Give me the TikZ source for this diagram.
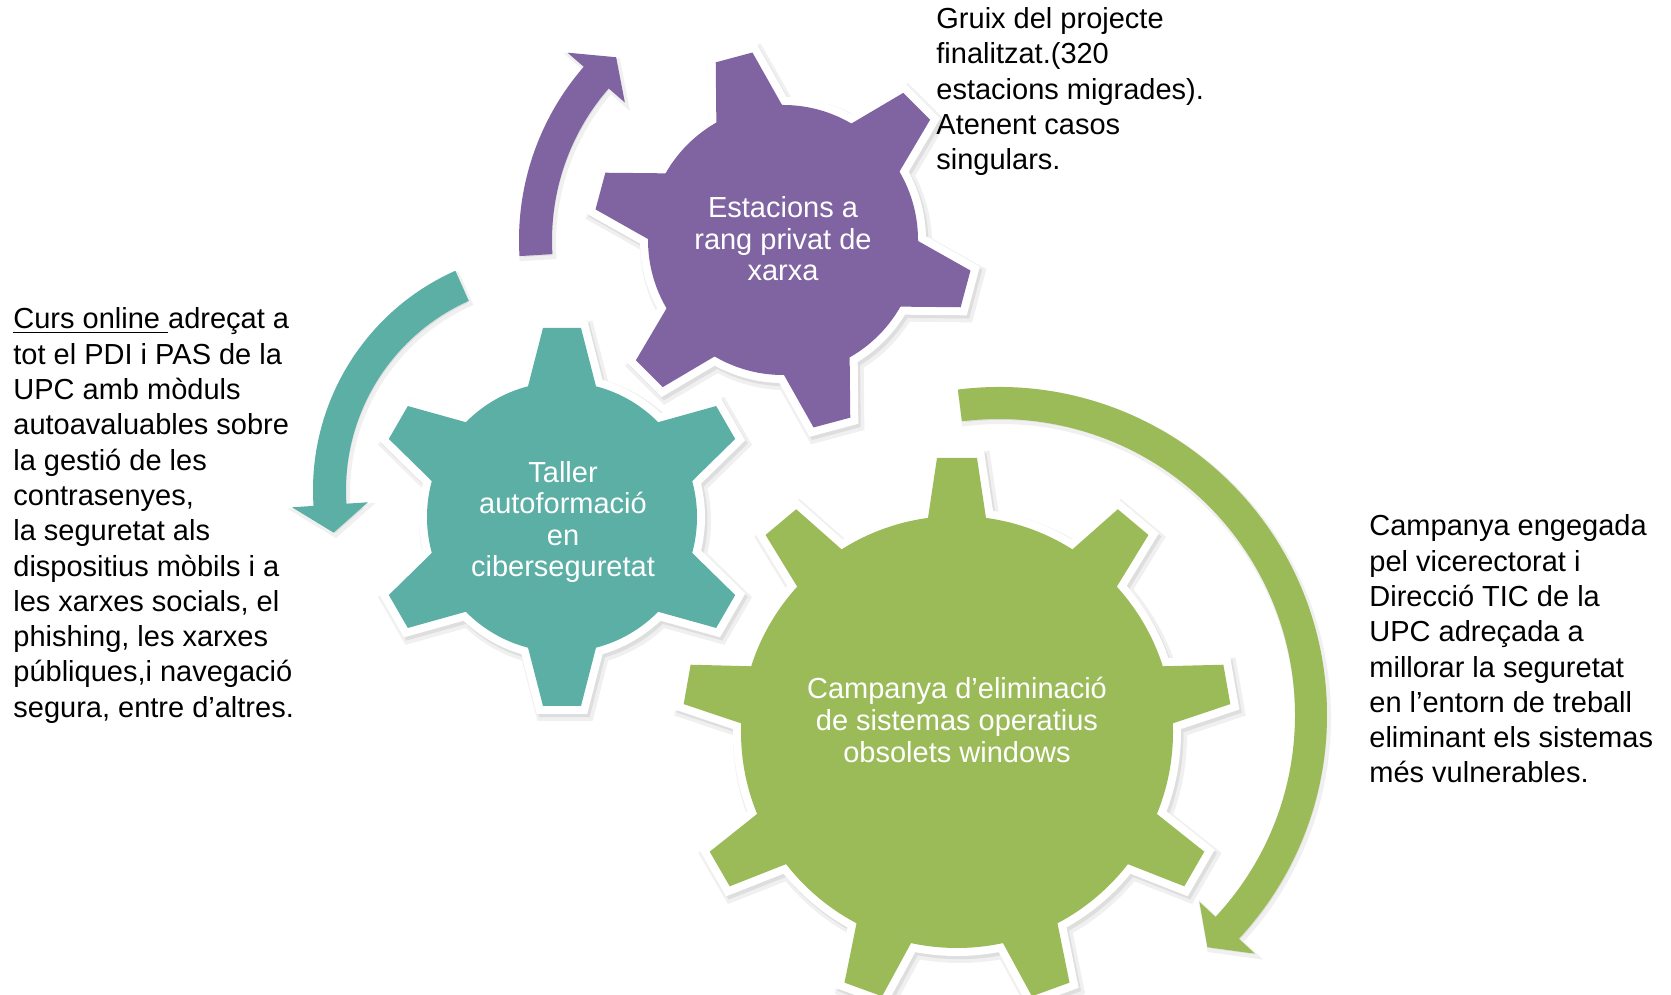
\documentclass[tikz,border=0pt]{standalone}
\usepackage{fontspec}
\setmainfont{Liberation Sans}
\definecolor{gpurple}{HTML}{8064A2}
\definecolor{gteal}{HTML}{5BAFA5}
\definecolor{ggreen}{HTML}{9BBB59}

% #1 style, #2 center (x,y), #3 teeth, #4 rotation, #5 body radius,
% #6 tooth inner x, #7 tooth inner half width, #8 tip radius, #9 tip half width
\newcommand\gearparts[9]{%
  \path[#1] (#2) circle[radius=#5];
  \foreach \k in {1,...,#3}{%
    \path[#1,shift={(#2)},rotate={#4+360*\k/#3}]
      (#6,-#7) -- (#8,-#9) -- (#8,#9) -- (#6,#7) -- cycle;}%
}
\newcommand\gearfull[9]{%
  \gearparts{gshadowA}{#2}{#3}{#4}{#5}{#6}{#7}{#8}{#9}%
  \gearparts{gshadowB}{#2}{#3}{#4}{#5}{#6}{#7}{#8}{#9}%
  \gearparts{gborder}{#2}{#3}{#4}{#5}{#6}{#7}{#8}{#9}%
  \gearparts{fill=#1}{#2}{#3}{#4}{#5}{#6}{#7}{#8}{#9}%
}
% #1 style, #2 center, #3 outer r, #4 inner r, #5 start angle, #6 head base angle,
% #7 apex angle, #8 head half width
\newcommand\arcarrow[8]{%
  \path[#1] ([shift={(#2)}]#5:#3) arc[start angle=#5, end angle=#6, radius=#3]
    -- ([shift={(#2)}]#6:{(#3+#4)/2+#8})
    -- ([shift={(#2)}]#7:{(#3+#4)/2})
    -- ([shift={(#2)}]#6:{(#3+#4)/2-#8})
    -- ([shift={(#2)}]#6:#4) arc[start angle=#6, end angle=#5, radius=#4] -- cycle;}

\tikzset{
  gshadowA/.style={fill=black!6, draw=black!6, line width=11pt, line join=miter, xshift=1.5pt, yshift=-2pt},
  gshadowB/.style={fill=black!13, draw=black!13, line width=8pt, line join=miter, xshift=1.2pt, yshift=-1.6pt},
  gborder/.style={draw=white, fill=white, line width=8pt, line join=miter},
  ashadow/.style={fill=black!12, draw=black!6, line width=2pt, xshift=1pt, yshift=-1.5pt},
  body/.style={font=\fontsize{14.5}{17.65}\selectfont, align=left, inner sep=0pt, anchor=base west, text=black},
  geartext/.style={font=\fontsize{14.5}{15.8}\selectfont, align=center, text=white, inner sep=0pt},
}

\begin{document}
\begin{tikzpicture}[x=0.5pt, y=0.5pt]
\useasboundingbox (0,0) rectangle (1671,995);
\fill[white] (0,0) rectangle (1671,995);

% circular arrows
\arcarrow{ashadow}{783,755}{264}{231}{183.5}{139}{132.4}{38}
\arcarrow{fill=gpurple}{783,755}{264}{231}{183.5}{139}{132.4}{38}
\arcarrow{ashadow}{553,505}{240}{207}{114}{183.8}{191}{38}
\arcarrow{fill=gteal}{553,505}{240}{207}{114}{183.8}{191}{38}
\arcarrow{ashadow}{999,280}{328}{296}{97.2}{-43}{-48.1}{38}
\arcarrow{fill=ggreen}{999,280}{328}{296}{97.2}{-43}{-48.1}{38}

% gears
\gearfull{gteal}{562,478}{6}{30}{135}{110}{39.3}{189}{19}
\gearfull{gpurple}{783,755}{6}{45}{135}{110}{39.3}{189}{19}
\gearfull{ggreen}{957,263}{9}{90}{216}{190}{32.6}{274}{20}

% gear labels
\node[geartext] (tPurple) at (783,756) {Estacions a\\rang privat de\\xarxa};
\node[geartext] (tTeal) at (563,473) {Taller\\autoformació\\en\\ciberseguretat};
\node[geartext] (tGreen) at (957,275) {Campanya d’eliminació\\de sistemas operatius\\obsolets windows};

% side texts (anchor = baseline of the last line)
\node[body] (txtTop) at (936,825.3) {Gruix del projecte\\finalitzat.(320\\estacions migrades).\\Atenent casos\\singulars.};
\node[body] (txtLeft) at (13,277.7) {\underline{Curs online\ }adreçat a\\tot el PDI i PAS de la\\UPC amb mòduls\\autoavaluables sobre\\la gestió de les\\contrasenyes,\\la seguretat als\\dispositius mòbils i a\\les xarxes socials, el\\phishing, les xarxes\\públiques,i navegació\\segura, entre d’altres.};
\node[body] (txtRight) at (1369,212) {Campanya engegada\\pel vicerectorat i\\Direcció TIC de la\\UPC adreçada a\\millorar la seguretat\\en l’entorn de treball\\eliminant els sistemas\\més vulnerables.};
\end{tikzpicture}
\end{document}
